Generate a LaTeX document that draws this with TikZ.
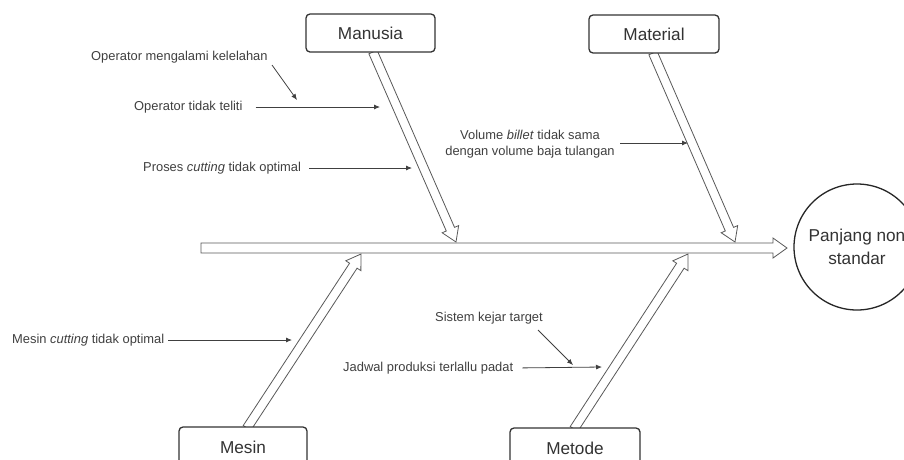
\documentclass[tikz,border=0pt]{standalone}
\usepackage{fontspec}
\setmainfont{Liberation Sans}
\usetikzlibrary{calc,arrows.meta}

\tikzset{
  cause/.style={draw=black!80, line width=1.3pt, rounded corners=4pt, fill=white,
    text=black!80, font=\fontsize{17.2}{20}\selectfont, inner sep=0pt},
  bonearrow/.style={draw=black!65, line width=0.8pt, fill=white, line join=miter},
  conn/.style={draw=black!75, line width=0.8pt, -{Latex[length=6pt,width=5pt]}},
  lbl/.style={text=black!75, font=\fontsize{12.9}{16}\selectfont, inner sep=0pt, anchor=west},
  effectnode/.style={draw=black!85, line width=1.3pt, circle, minimum size=126pt,
    inner sep=0pt, text=black!80, align=center, font=\fontsize{17.2}{23}\selectfont}
}

% hollow arrow: {start}{tip}{half shaft width}{half head width}{head length}
\newcommand{\hollowarrow}[5]{%
  \coordinate (hb) at ($(#2)!#5!(#1)$);
  \path[bonearrow]
    ($(#1)!#3!90:(#2)$) -- ($(hb)!#3!90:(#2)$) -- ($(hb)!#4!90:(#2)$) --
    (#2) --
    ($(hb)!#4!-90:(#2)$) -- ($(hb)!#3!-90:(#2)$) -- ($(#1)!#3!-90:(#2)$) -- cycle;
}

\begin{document}
\begin{tikzpicture}[x=1pt, y=-1pt]
  \useasboundingbox (0,0) rectangle (904,459);
  \clip (0,0) rectangle (904,459);
  \fill[white] (0,0) rectangle (904,459);

  % spine and bones
  \coordinate (spineL) at (201,248);
  \coordinate (spineR) at (787,248);
  \hollowarrow{spineL}{spineR}{5pt}{10pt}{14pt}

  \coordinate (manS) at (373,52);   \coordinate (manT) at (456,242);
  \coordinate (matS) at (653,53);   \coordinate (matT) at (735,242);
  \coordinate (mesS) at (247,428);  \coordinate (mesT) at (361,254);
  \coordinate (metS) at (574,429);  \coordinate (metT) at (688,254);
  \hollowarrow{manS}{manT}{4.5pt}{9pt}{14pt}
  \hollowarrow{matS}{matT}{4.5pt}{9pt}{14pt}
  \hollowarrow{mesS}{mesT}{4.5pt}{9pt}{14pt}
  \hollowarrow{metS}{metT}{4.5pt}{9pt}{14pt}

  % category boxes
  \node[cause, minimum width=129pt, minimum height=38pt] (manusia) at (370.5,33) {Manusia};
  \node[cause, minimum width=130pt, minimum height=38pt] (material) at (654,34) {Material};
  \node[cause, minimum width=128pt, minimum height=40pt] (mesin) at (243,447) {Mesin};
  \node[cause, minimum width=130pt, minimum height=40pt] (metode) at (575,448) {Metode};

  % effect
  \node[effectnode] (effect) at (857,247) {Panjang non\\standar};

  % causes: Manusia
  \node[lbl] (c1) at (91,57) {Operator mengalami kelelahan};
  \node[lbl] (c2) at (134,107) {Operator tidak teliti};
  \node[lbl] (c3) at (143,168) {Proses \textit{cutting} tidak optimal};
  \coordinate (c1s) at (272,65);  \coordinate (c1t) at (297,100);
  \coordinate (c2t) at (380,107);
  \coordinate (c3t) at (412,168);
  \draw[conn] (c1s) -- (c1t);
  \draw[conn, shorten <=13pt] (c2.east) -- (c2t);
  \draw[conn, shorten <=8pt] (c3.east) -- (c3t);

  % causes: Material
  \node[text=black!75, font=\fontsize{12.9}{16}\selectfont, inner sep=0pt, align=center]
    (c4) at (530,144) {Volume \textit{billet} tidak sama\\dengan volume baja tulangan};
  \coordinate (c4s) at (620,143);  \coordinate (c4t) at (688,143);
  \draw[conn] (c4s) -- (c4t);

  % causes: Mesin
  \node[lbl] (c5) at (12,340) {Mesin \textit{cutting} tidak optimal};
  \coordinate (c5t) at (292,340);
  \draw[conn, shorten <=4pt] (c5.east) -- (c5t);

  % causes: Metode
  \node[lbl] (c6) at (435,318) {Sistem kejar target};
  \node[lbl] (c7) at (343,368) {Jadwal produksi terlallu padat};
  \coordinate (c6s) at (538,330);  \coordinate (c6t) at (573,365);
  \coordinate (c7t) at (602,367);
  \draw[conn] (c6s) -- (c6t);
  \draw[conn, shorten <=9pt] (c7.east) -- (c7t);
\end{tikzpicture}
\end{document}
